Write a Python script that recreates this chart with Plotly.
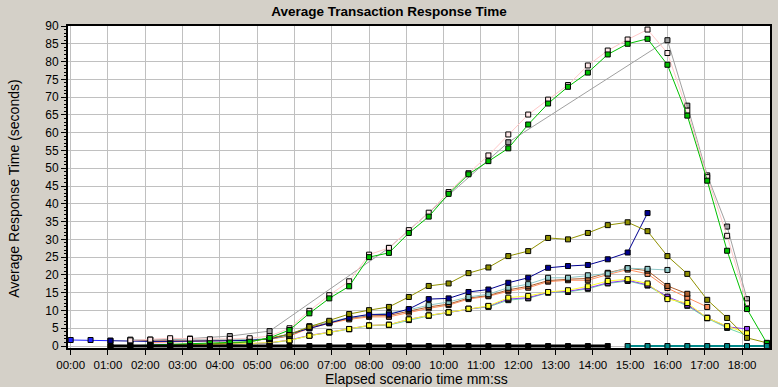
import plotly.graph_objects as go

N = None

# Elapsed time of each sample (seconds)
seconds = [0, 32, 64, 96, 128, 160, 192, 224, 256, 288, 320, 352, 384, 416, 448, 480,
           512, 544, 576, 608, 640, 672, 704, 736, 768, 800, 832, 864, 896, 928, 960,
           992, 1024, 1056, 1088, 1120]

tick_seconds = [0, 60, 120, 180, 240, 300, 360, 420, 480, 540, 600, 660, 720, 780, 840,
                900, 960, 1020, 1080]
tick_labels = ["00:00", "01:00", "02:00", "03:00", "04:00", "05:00", "06:00", "07:00",
               "08:00", "09:00", "10:00", "11:00", "12:00", "13:00", "14:00", "15:00",
               "16:00", "17:00", "18:00"]
y_ticks = [0, 5, 10, 15, 20, 25, 30, 35, 40, 45, 50, 55, 60, 65, 70, 75, 80, 85, 90]

black = [N, N, 0, 0, 0, 0, 0, 0, 0, 0, 0, 0, 0, 0, 0, 0, 0, 0, 0, 0, 0, 0, 0, 0, 0, 0,
         0, 0, N, N, N, N, N, N, N, N]
teal = [N, N, N, N, N, N, N, N, N, N, N, N, N, N, N, N, N, N, N, N, N, N, N, N, N, N,
        N, N, 0, 0, 0, 0, 0, 0, 0, 0]
red = [N, N, N, N, 0.1, 0.1, 0.2, N, N, N, N, N, N, N, N, N, N, N, N, N, N, N, N, N, N,
       N, N, N, N, N, N, N, N, N, N, N]
blue = [1.7, 1.7, 1.5, N, N, N, N, N, N, N, N, N, N, N, N, N, N, N, N, N, N, N, N, N, N,
        N, N, N, N, N, N, N, N, N, N, N]
aquamarine = [N, N, N, N, N, 0.1, 0.2, 0.3, 0.4, 0.5, 0.8, 1.6, 2.9, 3.8, 4.7, 5.7, 5.9,
              7.3, 8.5, 9.4, 10.4, 11.0, 12.9, 13.4, 15.0, 15.2, 16.1, 17.6, 18.3, 17.0,
              13.7, 11.3, 7.8, 5.1, 3.0, N]
purple = [N, N, N, N, 0.5, 0.4, 0.4, 0.4, 0.5, 0.6, 0.9, 1.7, 3.0, 3.9, 4.8, 5.8, 6.0,
          7.5, 8.6, 9.5, 10.5, 11.2, 13.2, 13.6, 15.1, 15.4, 16.3, 17.8, 18.5, 17.2,
          13.9, 11.6, 8.0, 5.4, 4.8, N]
yellow = [N, N, N, N, N, 0.2, 0.3, 0.4, 0.5, 0.7, 1.0, 1.6, 2.9, 3.9, 4.8, 5.8, 6.0,
          7.5, 8.6, 9.5, 10.5, 11.3, 13.6, 14.1, 15.2, 15.7, 16.8, 18.3, 18.8, 17.6,
          13.2, 12.1, 7.9, 5.6, 3.6, N]
salmon = [N, N, N, N, 1.0, 1.2, 1.3, 1.4, 1.5, 1.6, 1.9, 2.8, 5.0, 6.4, 7.5, 8.2, 8.2,
          9.4, 10.6, 11.5, 13.2, 14.0, 15.4, 16.4, 18.1, 18.5, 18.5, 20.1, 21.5, 20.3,
          16.3, 13.6, 11.0, N, N, N]
brown = [N, N, N, 1.6, 1.6, 1.5, 1.5, 1.5, 1.6, 1.7, 2.0, 2.9, 5.3, 6.6, 7.8, 8.5, 8.6,
         9.8, 11.0, 11.8, 13.5, 14.2, 15.8, 16.8, 18.4, 18.8, 19.0, 20.6, 21.9, 21.2,
         16.9, 14.7, N, N, N, N]
lightteal = [N, N, N, 1.8, 1.8, 1.7, 1.6, 1.6, 1.7, 1.8, 2.1, 3.0, 5.6, 6.7, 8.0, 8.7,
             9.3, 10.2, 11.5, 12.4, 13.8, 14.6, 16.4, 17.4, 19.2, 19.2, 19.9, 20.4, 21.9,
             21.7, 21.4, N, N, N, N, N]
navy = [N, N, 1.5, 1.3, 1.3, 1.3, 1.3, 1.4, 1.5, 1.6, 2.0, 3.4, 5.0, 6.6, 8.0, 8.9, 8.9,
        10.4, 13.2, 13.4, 15.2, 15.9, 17.8, 19.2, 22.0, 22.5, 22.8, 24.4, 26.3, 37.4,
        N, N, N, N, N, N]
olive = [N, N, N, N, 0.2, 0.3, 0.4, 0.5, 0.8, 1.2, 2.3, 3.3, 5.4, 7.1, 9.0, 10.1, 11.0,
         13.8, 16.9, 17.6, 20.5, 22.1, 25.3, 26.7, 30.4, 30.0, 31.8, 34.0, 34.8, 32.3,
         25.3, 20.3, 13.0, 7.9, 2.3, 0.9]
gray = [N, N, N, N, 1.7, N, 2.1, N, 2.8, N, 4.2, N, N, N, N, N, 27.6, N, N, N, N, N,
        57.3, N, N, N, N, N, N, N, 86.0, 67.6, 48.0, 33.6, 13.2, N]
pink = [N, N, N, 1.6, 1.8, 2.2, 2.0, 1.9, 2.0, 2.2, 2.8, 5.0, 9.9, 14.3, 18.2, 25.7, 27.6,
        32.6, 37.5, 43.3, 48.6, 53.6, 59.5, 65.1, 69.3, 73.4, 78.9, 83.1, 86.2, 89.0,
        82.4, 66.2, 47.5, 31.0, 12.0, N]
green = [N, N, 0.0, 0.0, 0.3, 0.5, 0.7, 0.8, 1.0, 1.2, 2.3, 4.5, 9.2, 13.4, 16.8, 25.0,
         26.2, 31.8, 36.4, 42.8, 48.3, 52.0, 55.6, 62.3, 68.2, 72.9, 76.9, 82.0, 85.0,
         86.4, 79.1, 64.8, 46.5, 26.8, 10.4, 0.8]

series = [
    # (values, line color, marker fill, line width, connect gaps)
    (red, "#FF3060", "#FF3060", 1, False),
    (blue, "#2020FF", "#2020FF", 1, False),
    (aquamarine, "#70D8A8", "#70D8A8", 1, False),
    (purple, "#9040F0", "#9040F0", 1, False),
    (yellow, "#FFFF30", "#FFFF30", 1, False),
    (salmon, "#FF9060", "#FF9060", 1, False),
    (brown, "#B06030", "#B06030", 1, False),
    (lightteal, "#90C8C8", "#90C8C8", 1, False),
    (navy, "#000090", "#000090", 1, False),
    (olive, "#909000", "#909000", 1, False),
    (gray, "#A0A0A0", "#A0A0A0", 1, True),
    (pink, "#FFC8C8", "#FFE8E8", 1, False),
    (green, "#00C000", "#00C000", 1, False),
    (teal, "#008888", "#008888", 2, False),
    (black, "#000000", "#000000", 3, False),
]

fig = go.Figure()
for vals, lc, mc, lw, cg in series:
    fig.add_trace(go.Scatter(
        x=seconds, y=vals, mode="lines+markers", connectgaps=cg,
        line=dict(color=lc, width=lw),
        marker=dict(symbol="square", size=5, color=mc, line=dict(color="#000000", width=1)),
        showlegend=False, hoverinfo="skip",
    ))

font_main = "Liberation Sans, Arial, sans-serif"

fig.update_layout(
    width=778, height=387,
    margin=dict(l=68, r=6, t=26, b=39),
    paper_bgcolor="#D4D0C8", plot_bgcolor="#FFFFFF",
    font=dict(family=font_main, size=12, color="#000000"),
    title=dict(text="<b>Average Transaction Response Time</b>",
               font=dict(family=font_main, size=13.5, color="#000000"),
               x=0.5, xref="container", xanchor="center",
               y=1 - 11.5 / 387, yref="container", yanchor="middle"),
    xaxis=dict(range=[-4.3, 1125], tickmode="array", tickvals=tick_seconds, ticktext=tick_labels,
               showgrid=True, gridcolor="#C0C0C0", gridwidth=1,
               ticks="outside", ticklen=5, tickcolor="#000000",
               showline=True, linecolor="#000000", linewidth=2, mirror=True,
               zeroline=False, tickfont=dict(size=11.5, family=font_main)),
    yaxis=dict(range=[-0.55, 90], tickmode="array", tickvals=y_ticks,
               showgrid=True, gridcolor="#C0C0C0", gridwidth=1,
               ticks="outside", ticklen=5, tickcolor="#000000",
               minor=dict(dtick=1, ticks="outside", ticklen=2, tickcolor="#000000", showgrid=False),
               showline=True, linecolor="#000000", linewidth=2, mirror=True,
               zeroline=False, tickfont=dict(size=12, family=font_main)),
    annotations=[
        dict(text="Average Response Time (seconds)", textangle=-90,
             x=(13 - 68) / 704, y=0.495, xref="paper", yref="paper",
             xanchor="center", yanchor="middle", showarrow=False,
             font=dict(size=14, family=font_main, color="#000000")),
        dict(text="Elapsed scenario time mm:ss",
             x=0.497, y=(348 - 378.5) / 322, xref="paper", yref="paper",
             xanchor="center", yanchor="middle", showarrow=False,
             font=dict(size=14, family=font_main, color="#000000")),
    ],
)

fig.write_html("out.html", config={"displayModeBar": False},
               post_script="document.body.style.margin='0';document.body.style.overflow='hidden';")
